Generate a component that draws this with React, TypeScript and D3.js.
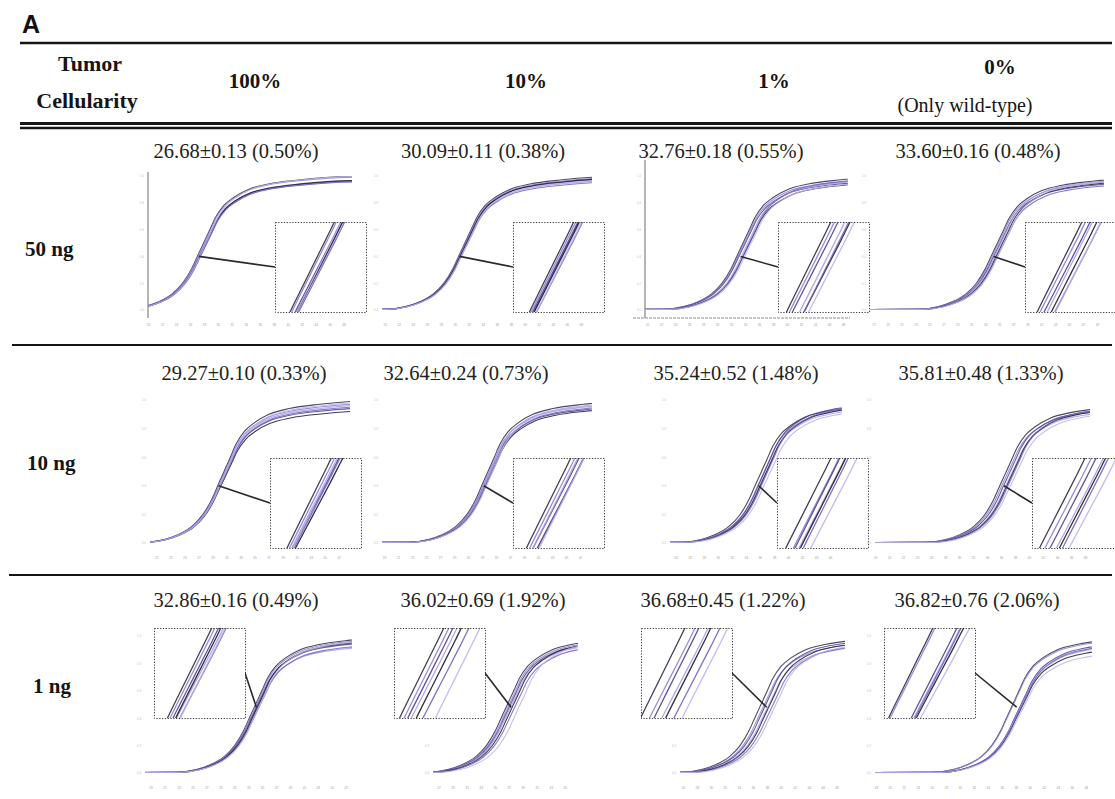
import React, { useEffect, useRef } from 'react';
import * as d3 from 'd3';

// table headings
const colLabels = ['100%', '10%', '1%', '0%'];
const colNotes = ['', '', '', '(Only wild-type)'];
const rowLabels = ['50 ng', '10 ng', '1 ng'];

// Ct mean, SD and CV of each panel, row by row
const ctMean = [26.68, 30.09, 32.76, 33.6, 29.27, 32.64, 35.24, 35.81, 32.86, 36.02, 36.68, 36.82];
const ctSd = [0.13, 0.11, 0.18, 0.16, 0.1, 0.24, 0.52, 0.48, 0.16, 0.69, 0.45, 0.76];
const ctCv = [0.5, 0.38, 0.55, 0.48, 0.33, 0.73, 1.48, 1.33, 0.49, 1.92, 1.22, 2.06];

// cycle window visible in each amplification plot
const cycleFrom = [20.0, 19.6, 19.7, 16.5, 20.1, 18.7, 23.2, 18.0, 18.2, 26.2, 25.6, 17.9];
const cycleTo = [49.2, 49.6, 48.7, 50.0, 48.6, 48.7, 47.7, 48.7, 47.9, 46.9, 49.2, 48.9];

// replicate shift from the mean Ct (cycles)
const repShift = [
  [-0.22, -0.15, -0.08, -0.02, 0.03, 0.08, 0.12],
  [-0.15, -0.1, -0.05, 0, 0.04, 0.08, 0.12],
  [-0.55, -0.45, -0.35, 0.05, 0.2, 0.3, 0.45],
  [-0.4, -0.3, -0.15, 0.1, 0.25, 0.35, 0.5],
  [-0.12, -0.06, -0.02, 0.02, 0.06, 0.1, 0.14],
  [-0.3, -0.2, -0.1, 0, 0.08, 0.18, 0.3],
  [-0.6, -0.25, -0.1, 0, 0.12, 0.3, 0.55],
  [-0.7, -0.5, -0.2, 0.05, 0.25, 0.45, 0.65],
  [-0.3, -0.2, -0.12, -0.05, 0.05, 0.15, 0.3],
  [-0.7, -0.5, -0.35, -0.2, 0.1, 0.35, 1.1],
  [-1.0, -0.65, -0.35, -0.1, 0.2, 0.55, 1.0],
  [-0.75, -0.7, 0.3, 0.35, 0.4, 0.45, 0.5],
];

// replicate plateau height (relative)
const repPlateau = [
  [1.0, 0.995, 0.965, 0.96, 0.97, 0.96, 1.0],
  [1.0, 0.99, 0.98, 0.97, 0.985, 0.96, 0.975],
  [1.0, 0.985, 0.97, 0.98, 0.96, 0.99, 0.965],
  [0.99, 0.975, 0.96, 0.985, 0.97, 0.95, 0.98],
  [1.0, 0.98, 0.95, 0.97, 0.93, 0.96, 0.99],
  [1.0, 0.98, 0.96, 0.99, 0.95, 0.97, 0.985],
  [0.98, 0.97, 0.99, 0.96, 0.975, 0.985, 0.95],
  [0.97, 0.95, 0.96, 0.94, 0.955, 0.965, 0.93],
  [1.0, 0.99, 0.97, 0.94, 0.98, 0.95, 0.985],
  [1.0, 0.99, 0.98, 0.97, 0.985, 0.96, 0.995],
  [1.0, 0.97, 0.99, 0.95, 0.98, 0.96, 0.97],
  [1.0, 0.99, 0.97, 0.95, 0.93, 0.96, 0.9],
];

// normalised amplification curve: cycles from the midpoint -> fraction of plateau
const shapeRel = [-40, -11.5, -8.5, -6.5, -4.5, -3, -1.7, -0.9, 0, 0.9, 1.7, 2.9, 4.3, 6.4, 9.3, 13.6, 20.7, 35];
const shapeFrac = [0, 0.005, 0.025, 0.06, 0.12, 0.2, 0.31, 0.4, 0.5, 0.6, 0.69, 0.78, 0.84, 0.9, 0.94, 0.97, 0.995, 1];

// layout
const W = 1115;
const H = 799;
const serif = "'Liberation Serif', 'Times New Roman', serif";
const midAfterCt = 1.5;
const colHeadX = [255, 526, 774, 1000];
const rowBase = [310, 543, 773];
const rowTop = [176, 400, 636];
const rowTitleY = [158, 380, 607];
const rowLabelX = [25, 27, 33];
const rowLabelY = [256, 470, 693];
const titleX = [236, 483, 721, 978, 244, 466, 736, 981, 236, 483, 723, 977];
const plotX0 = [148, 382, 645, 870, 150, 382, 670, 875, 145, 433, 680, 875];
const plotX1 = [352, 592, 848, 1104, 350, 592, 842, 1090, 352, 578, 845, 1092];
const insetX = [275, 513, 778, 1025, 270, 513, 777, 1032, 154, 394, 641, 884];
const insetY = [222, 458, 628];
const insetW = 91;
const insetH = 90;
const connectorFrac = [0.4, 0.4, 0.48];
const repColors = ['#2d2a44', '#8c82d4', '#4a4290', '#a99ee3', '#1d1a2c', '#7064bf', '#bdb2ec'];

const App = () => {
  const svgRef = useRef<SVGSVGElement>(null);

  useEffect(() => {
    const svg = d3.select(svgRef.current);
    svg.selectAll('*').remove();
    svg.append('rect').attr('width', W).attr('height', H).attr('fill', '#fff');

    // ---- table frame and headings
    svg.append('text').text('A').attr('x', 22).attr('y', 33)
      .attr('font-family', "'Liberation Sans', Arial, sans-serif").attr('font-weight', 'bold')
      .attr('font-size', 25).attr('fill', '#111');

    const rule = (y: number, w: number, xs = 20) =>
      svg.append('line').attr('x1', xs).attr('x2', 1112).attr('y1', y).attr('y2', y)
        .attr('stroke', '#151515').attr('stroke-width', w);
    rule(43, 2.6);
    rule(123.5, 3);
    rule(128, 2.4);
    rule(345, 2, 12);
    rule(575, 2, 9);

    const head = svg.append('g').attr('font-family', serif).attr('fill', '#151515');
    head.append('text').text('Tumor').attr('x', 90).attr('y', 71).attr('text-anchor', 'middle')
      .attr('font-weight', 'bold').attr('font-size', 22);
    head.append('text').text('Cellularity').attr('x', 87).attr('y', 108).attr('text-anchor', 'middle')
      .attr('font-weight', 'bold').attr('font-size', 22);
    colLabels.forEach((c, i) => {
      head.append('text').text(c).attr('x', colHeadX[i]).attr('y', colNotes[i] ? 74 : 88)
        .attr('text-anchor', 'middle').attr('font-weight', 'bold').attr('font-size', 21);
      if (colNotes[i]) {
        head.append('text').text(colNotes[i]).attr('x', 965).attr('y', 112)
          .attr('text-anchor', 'middle').attr('font-size', 20);
      }
    });
    rowLabels.forEach((r, i) => {
      head.append('text').text(r).attr('x', rowLabelX[i]).attr('y', rowLabelY[i])
        .attr('font-weight', 'bold').attr('font-size', 21);
    });

    const defs = svg.append('defs');
    const relFromFrac = d3.scaleLinear().domain(shapeFrac).range(shapeRel);

    // ---- 12 amplification panels
    ctMean.forEach((ct, p) => {
      const row = Math.floor(p / 4);
      const mid = ct + midAfterCt;
      const g = svg.append('g');

      const x = d3.scaleLinear().domain([cycleFrom[p], cycleTo[p]]).range([plotX0[p], plotX1[p]]);
      const y = d3.scaleLinear().domain([0, 1]).range([rowBase[row], rowTop[row]]);

      g.append('text')
        .text(`${ct.toFixed(2)}±${ctSd[p].toFixed(2)} (${ctCv[p].toFixed(2)}%)`)
        .attr('x', titleX[p]).attr('y', rowTitleY[row]).attr('text-anchor', 'middle')
        .attr('font-family', serif).attr('font-size', 20.5).attr('fill', '#222');

      // faint axis tick labels, illegible in the scan
      const ticks = d3.range(Math.ceil(cycleFrom[p]), cycleTo[p], 2);
      const xa = g.append('g').attr('transform', `translate(0,${rowBase[row] + 14})`)
        .call(d3.axisBottom(x).tickValues(ticks).tickSize(0).tickPadding(0).tickFormat(d3.format('d')));
      xa.select('.domain').remove();
      xa.selectAll('text').attr('font-size', 3.2).attr('fill', '#a0a0a0');
      const ya = g.append('g').attr('transform', `translate(${plotX0[p] - 4},0)`)
        .call(d3.axisLeft(y).ticks(5).tickSize(0).tickPadding(0).tickFormat(d3.format('.1f')));
      ya.select('.domain').remove();
      ya.selectAll('text').attr('font-size', 2.8).attr('fill', '#bcbcbc');

      if (p === 0 || p === 2) {
        g.append('line').attr('x1', plotX0[p]).attr('x2', plotX0[p])
          .attr('y1', rowTop[row] - (p === 0 ? 4 : 16)).attr('y2', rowBase[row] + 8)
          .attr('stroke', '#6a6a6a').attr('stroke-width', 1);
      }
      if (p === 2) {
        g.append('line').attr('x1', plotX0[p] - 12).attr('x2', plotX1[p] + 2)
          .attr('y1', rowBase[row] + 8).attr('y2', rowBase[row] + 8)
          .attr('stroke', '#8a8a8a').attr('stroke-width', 1).attr('stroke-dasharray', '3 1');
      }

      // main curves
      const clipId = `clip-${p}`;
      defs.append('clipPath').attr('id', clipId).append('rect')
        .attr('x', plotX0[p]).attr('y', rowTop[row] - 15)
        .attr('width', plotX1[p] - plotX0[p]).attr('height', rowBase[row] - rowTop[row] + 18);
      const curves = g.append('g').attr('clip-path', `url(#${clipId})`);
      repShift[p].forEach((s, r) => {
        const line = d3.line<number>()
          .x((_, i) => x(mid + s + shapeRel[i]))
          .y((f) => y(f * repPlateau[p][r]))
          .curve(d3.curveMonotoneX);
        curves.append('path').attr('d', line(shapeFrac))
          .attr('fill', 'none').attr('stroke', repColors[r])
          .attr('stroke-width', 1.1).attr('stroke-opacity', 0.85);
      });

      // connector from the curve to the inset
      const bx = insetX[p];
      const by = insetY[row];
      const cf = connectorFrac[row];
      const cx = x(mid + relFromFrac(cf));
      const cy = y(cf);
      const ex = row === 2 ? bx + insetW : bx;
      g.append('line').attr('x1', cx).attr('y1', cy).attr('x2', ex).attr('y2', by + insetH / 2)
        .attr('stroke', '#2a2a2a').attr('stroke-width', 1.6);

      // zoomed inset of the exponential phase
      const ix = d3.scaleLinear().domain([mid - 2.1, mid + 2.5]).range([bx, bx + insetW]);
      const iy = d3.scaleLinear().domain([0.375, 0.625]).range([by + insetH, by]);
      const iclip = `iclip-${p}`;
      defs.append('clipPath').attr('id', iclip).append('rect')
        .attr('x', bx).attr('y', by).attr('width', insetW).attr('height', insetH);
      g.append('rect').attr('x', bx).attr('y', by).attr('width', insetW).attr('height', insetH)
        .attr('fill', '#fff');
      const ins = g.append('g').attr('clip-path', `url(#${iclip})`);
      repShift[p].forEach((s, r) => {
        const line = d3.line<number>()
          .x((_, i) => ix(mid + s + shapeRel[i]))
          .y((f) => iy(f * repPlateau[p][r]))
          .curve(d3.curveMonotoneX);
        ins.append('path').attr('d', line(shapeFrac))
          .attr('fill', 'none').attr('stroke', repColors[r])
          .attr('stroke-width', 1.3).attr('stroke-opacity', 0.9);
      });
      g.append('rect').attr('x', bx + 0.5).attr('y', by + 0.5).attr('width', insetW).attr('height', insetH)
        .attr('fill', 'none').attr('stroke', '#333').attr('stroke-width', 1)
        .attr('stroke-dasharray', '1.2 1.6');
    });
  }, []);

  return (
    <div style={{ position: 'absolute', left: 0, top: 0 }}>
      <svg ref={svgRef} width={W} height={H} />
    </div>
  );
};

export default App;
